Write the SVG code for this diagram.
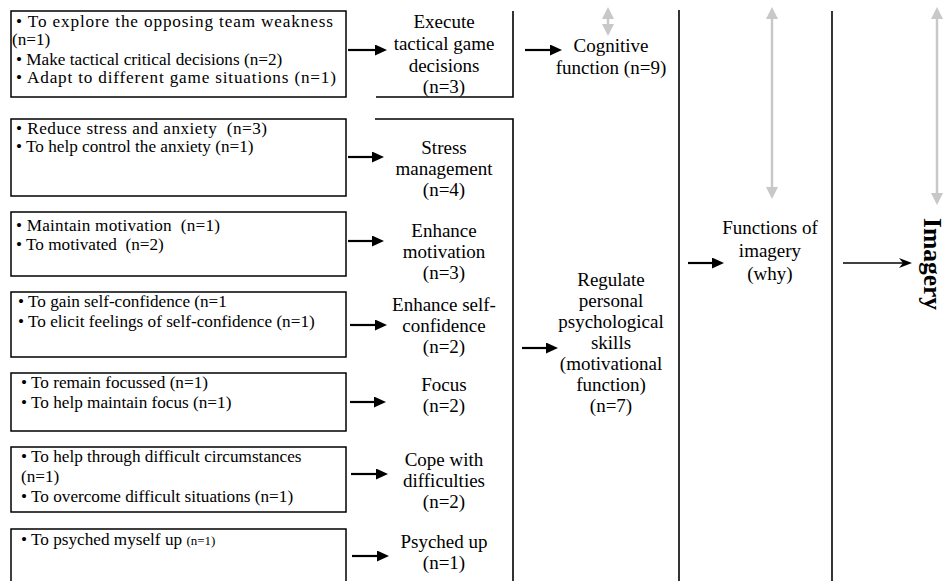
<svg xmlns="http://www.w3.org/2000/svg" width="948" height="581" viewBox="0 0 948 581" font-family="'Liberation Serif', 'Times New Roman', 'DejaVu Serif', serif">
<defs>
<style>
.bg{fill:#ffffff}
.box{fill:none;stroke:#000;stroke-width:1.5}
.rule{fill:none;stroke:#000;stroke-width:1.6}
text{font-family:'Liberation Serif','DejaVu Serif',serif}
.item{font-size:17.2px;fill:#000;white-space:pre}
.small{font-size:13px}
.lab{font-size:19px;fill:#000;text-anchor:middle}
.title{font-size:25.5px;font-weight:bold;fill:#000}
.arr{stroke:#000;stroke-width:2.2;fill:none;marker-end:url(#ah)}
.thin{stroke:#000;stroke-width:1.5;fill:none;marker-end:url(#ahb)}
.gray{stroke:#c8c8c8;stroke-width:2.5;fill:none;marker-start:url(#ag);marker-end:url(#ag)}
</style>
<marker id="ah" markerUnits="userSpaceOnUse" markerWidth="12" markerHeight="11" refX="5" refY="5.5" orient="auto">
<path d="M0,0 L12,5.5 L0,11 z" fill="#000"/>
</marker>
<marker id="ahb" markerUnits="userSpaceOnUse" markerWidth="13" markerHeight="10" refX="4" refY="5" orient="auto">
<path d="M0,0 L13,5 L0,10 L4,5 z" fill="#000"/>
</marker>
<marker id="ag" markerUnits="userSpaceOnUse" markerWidth="12" markerHeight="12" refX="4" refY="6" orient="auto-start-reverse">
<path d="M0,0 L12,6 L0,12 z" fill="#c8c8c8"/>
</marker>
</defs>
<rect class="bg" x="0" y="0" width="948" height="581"/>

<g id="frame">
<path class="rule" d="M513,11 V97 H376"/>
<path class="rule" d="M375,119 H513 V581"/>
<path class="rule" d="M679,10 V581"/>
<path class="rule" d="M832,11 V581"/>
</g>

<g id="src-tactical">
<rect class="box" x="11" y="11" width="335" height="86"/>
<text class="item" x="16" y="27" textLength="317" lengthAdjust="spacing">• To explore the opposing team weakness</text>
<text class="item" x="12" y="45">(n=1)</text>
<text class="item" x="16" y="65">• Make tactical critical decisions (n=2)</text>
<text class="item" x="16" y="83" textLength="320" lengthAdjust="spacing">• Adapt to different game situations (n=1)</text>
</g>
<g id="src-stress">
<rect class="box" x="11" y="119" width="335" height="77"/>
<text class="item" x="16" y="134" xml:space="preserve" textLength="251" lengthAdjust="spacing">• Reduce stress and anxiety  (n=3)</text>
<text class="item" x="16" y="152">• To help control the anxiety (n=1)</text>
</g>
<g id="src-motivation">
<rect class="box" x="11" y="212" width="335" height="64"/>
<text class="item" x="16" y="231" xml:space="preserve" textLength="204" lengthAdjust="spacing">• Maintain motivation  (n=1)</text>
<text class="item" x="16" y="250" xml:space="preserve">• To motivated  (n=2)</text>
</g>
<g id="src-confidence">
<rect class="box" x="11" y="292" width="335" height="65"/>
<text class="item" x="18" y="307">• To gain self-confidence (n=1</text>
<text class="item" x="18" y="327">• To elicit feelings of self-confidence (n=1)</text>
</g>
<g id="src-focus">
<rect class="box" x="11" y="373" width="335" height="58"/>
<text class="item" x="21" y="388">• To remain focussed (n=1)</text>
<text class="item" x="21" y="408">• To help maintain focus (n=1)</text>
</g>
<g id="src-cope">
<rect class="box" x="11" y="447" width="335" height="65"/>
<text class="item" x="21" y="462">• To help through difficult circumstances</text>
<text class="item" x="21" y="482">(n=1)</text>
<text class="item" x="21" y="502">• To overcome difficult situations (n=1)</text>
</g>
<g id="src-psyched">
<path class="box" d="M11,590 V529 H346 V590"/>
<text class="item" x="21" y="545">• To psyched myself up <tspan class="small">(n=1)</tspan></text>
</g>

<g id="execute">
<text class="lab" x="444" y="28">Execute</text>
<text class="lab" x="444" y="50">tactical game</text>
<text class="lab" x="444" y="72">decisions</text>
<text class="lab" x="444" y="93">(n=3)</text>
</g>
<g id="stress">
<text class="lab" x="444" y="154">Stress</text>
<text class="lab" x="444" y="175">management</text>
<text class="lab" x="444" y="196">(n=4)</text>
</g>
<g id="motivation">
<text class="lab" x="444" y="237">Enhance</text>
<text class="lab" x="444" y="258">motivation</text>
<text class="lab" x="444" y="279">(n=3)</text>
</g>
<g id="confidence">
<text class="lab" x="444" y="311">Enhance self-</text>
<text class="lab" x="444" y="332">confidence</text>
<text class="lab" x="444" y="353">(n=2)</text>
</g>
<g id="focus">
<text class="lab" x="444" y="391">Focus</text>
<text class="lab" x="444" y="412">(n=2)</text>
</g>
<g id="cope">
<text class="lab" x="444" y="466">Cope with</text>
<text class="lab" x="444" y="487">difficulties</text>
<text class="lab" x="444" y="508">(n=2)</text>
</g>
<g id="psyched">
<text class="lab" x="444" y="548">Psyched up</text>
<text class="lab" x="444" y="569">(n=1)</text>
</g>
<g id="cognitive">
<text class="lab" x="611" y="52">Cognitive</text>
<text class="lab" x="611" y="74">function (n=9)</text>
</g>
<g id="regulate">
<text class="lab" x="611" y="286">Regulate</text>
<text class="lab" x="611" y="307">personal</text>
<text class="lab" x="611" y="328">psychological</text>
<text class="lab" x="611" y="349">skills</text>
<text class="lab" x="611" y="370">(motivational</text>
<text class="lab" x="611" y="391">function)</text>
<text class="lab" x="611" y="412">(n=7)</text>
</g>
<g id="functions">
<text class="lab" x="770" y="234">Functions of</text>
<text class="lab" x="770" y="257">imagery</text>
<text class="lab" x="770" y="280">(why)</text>
</g>
<g id="imagery">
<text class="title" transform="translate(924,218) rotate(90)">Imagery</text>
</g>

<g id="connectors">
<line class="arr" x1="348" y1="50" x2="380" y2="50"/>
<line class="arr" x1="525" y1="50" x2="555" y2="50"/>
<line class="arr" x1="348" y1="157" x2="377" y2="157"/>
<line class="arr" x1="348" y1="241" x2="377" y2="241"/>
<line class="arr" x1="350" y1="325" x2="380" y2="325"/>
<line class="arr" x1="350" y1="402" x2="379" y2="402"/>
<line class="arr" x1="351" y1="474" x2="381" y2="474"/>
<line class="arr" x1="352" y1="556" x2="382" y2="556"/>
<line class="arr" x1="522" y1="348" x2="551" y2="348"/>
<line class="arr" x1="688" y1="263" x2="717" y2="263"/>
<line class="thin" x1="843" y1="263" x2="903" y2="263"/>
<line class="gray" x1="608" y1="15" x2="608" y2="28"/>
<line class="gray" x1="772" y1="15" x2="772" y2="191"/>
<line class="gray" x1="937" y1="15" x2="937" y2="197"/>
</g>
</svg>
